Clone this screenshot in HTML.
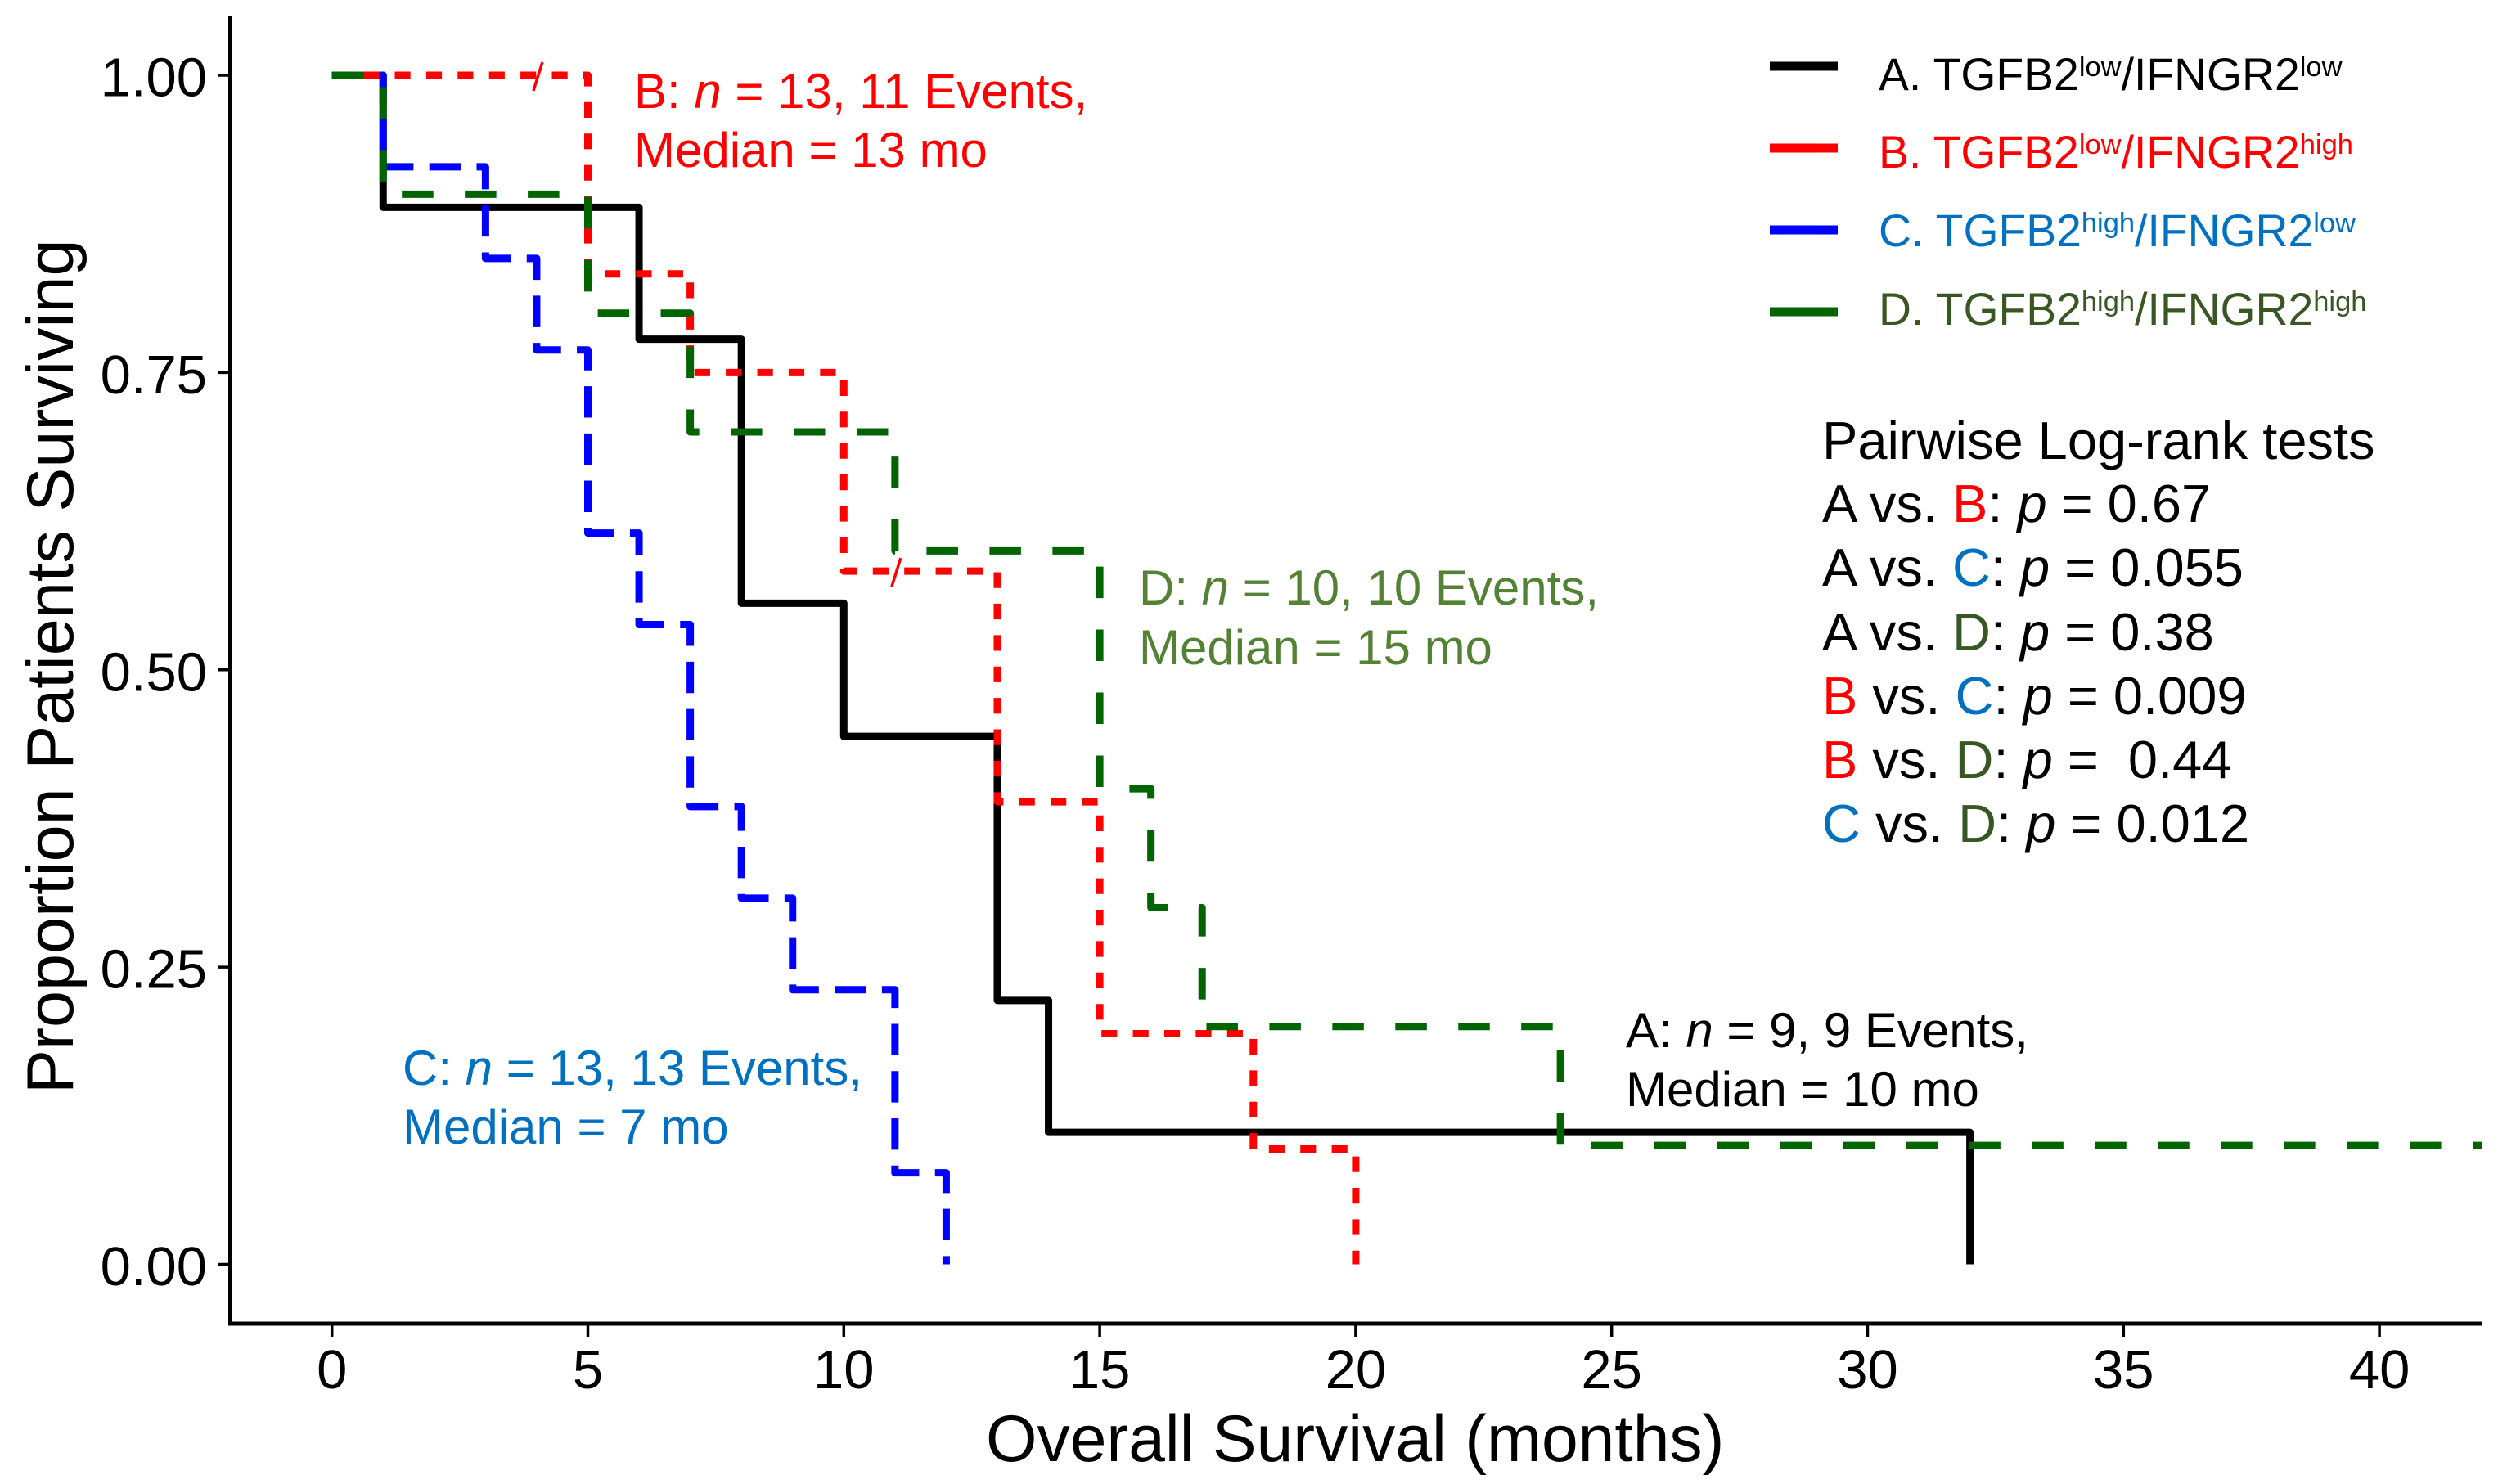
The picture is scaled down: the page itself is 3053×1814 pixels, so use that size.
<!DOCTYPE html>
<html lang="en">
<head>
<meta charset="utf-8">
<title>Overall survival by TGFB2 and IFNGR2 expression</title>
<style>
  html, body { margin: 0; padding: 0; background: #fff; }
  svg { display: block; }
  text { font-family: "Liberation Sans", Arial, sans-serif; white-space: pre; }
  .tick { font-size: 67px; fill: #000; }
  .note { font-size: 60px; }
  .leg { font-size: 55.3px; }
  .pw { font-size: 65px; fill: #000; }
  .i { font-style: italic; }
  .r { fill: #ff0000; } .c { fill: #0070c0; } .d { fill: #385723; }
</style>
</head>
<body>
<svg id="chart" xmlns="http://www.w3.org/2000/svg" width="3053" height="1814" viewBox="0 0 3053 1814">
  <rect x="0" y="0" width="3053" height="1814" fill="#fff"/>

  <g id="axes">
    <line x1="281.5" y1="19" x2="281.5" y2="1620" stroke="#000" stroke-width="5"/>
    <line x1="279" y1="1618" x2="3034" y2="1618" stroke="#000" stroke-width="5"/>
  </g>
  <g id="ticks"></g>
  <g id="series"></g>

  <text x="89" y="1337" transform="rotate(-90 89 1337)" font-size="81" fill="#000">Proportion Patients Surviving</text>
  <text x="1205" y="1786" font-size="80.4" fill="#000">Overall Survival (months)</text>

  <g fill="#ff0000">
    <text class="note" x="775" y="132">B: <tspan class="i">n</tspan> = 13, 11 Events,</text>
    <text class="note" x="775" y="204">Median = 13 mo</text>
  </g>
  <g fill="#548235">
    <text class="note" x="1392" y="739">D: <tspan class="i">n</tspan> = 10, 10 Events,</text>
    <text class="note" x="1392" y="812">Median = 15 mo</text>
  </g>
  <g fill="#0070c0">
    <text class="note" x="492" y="1326">C: <tspan class="i">n</tspan> = 13, 13 Events,</text>
    <text class="note" x="492" y="1398">Median = 7 mo</text>
  </g>
  <g fill="#000">
    <text class="note" x="1987" y="1280">A: <tspan class="i">n</tspan> = 9, 9 Events,</text>
    <text class="note" x="1987" y="1352">Median = 10 mo</text>
  </g>

  <g>
    <g>
      <line x1="2163" y1="81" x2="2246" y2="81" stroke="#000" stroke-width="11"/>
      <text class="leg" x="2296" y="110" fill="#000">A. TGFB2<tspan dy="-17" font-size="34.5">low</tspan><tspan dy="17">/IFNGR2</tspan><tspan dy="-17" font-size="34.5">low</tspan></text>
    </g>
    <g>
      <line x1="2163" y1="181" x2="2246" y2="181" stroke="#ff0000" stroke-width="11"/>
      <text class="leg" x="2296" y="205" fill="#ff0000">B. TGFB2<tspan dy="-17" font-size="34.5">low</tspan><tspan dy="17">/IFNGR2</tspan><tspan dy="-17" font-size="34.5">high</tspan></text>
    </g>
    <g>
      <line x1="2163" y1="281" x2="2246" y2="281" stroke="#0000ff" stroke-width="11"/>
      <text class="leg" x="2296" y="301" fill="#0070c0">C. TGFB2<tspan dy="-17" font-size="34.5">high</tspan><tspan dy="17">/IFNGR2</tspan><tspan dy="-17" font-size="34.5">low</tspan></text>
    </g>
    <g>
      <line x1="2163" y1="381" x2="2246" y2="381" stroke="#006400" stroke-width="11"/>
      <text class="leg" x="2296" y="397" fill="#385723">D. TGFB2<tspan dy="-17" font-size="34.5">high</tspan><tspan dy="17">/IFNGR2</tspan><tspan dy="-17" font-size="34.5">high</tspan></text>
    </g>
  </g>

  <g>
    <text class="pw" x="2227" y="561">Pairwise Log-rank tests</text>
    <text class="pw" x="2227" y="638">A vs. <tspan class="r">B</tspan>: <tspan class="i">p</tspan> = 0.67</text>
    <text class="pw" x="2227" y="716">A vs. <tspan class="c">C</tspan>: <tspan class="i">p</tspan> = 0.055</text>
    <text class="pw" x="2227" y="795">A vs. <tspan class="d">D</tspan>: <tspan class="i">p</tspan> = 0.38</text>
    <text class="pw" x="2227" y="873"><tspan class="r">B</tspan> vs. <tspan class="c">C</tspan>: <tspan class="i">p</tspan> = 0.009</text>
    <text class="pw" x="2227" y="951"><tspan class="r">B</tspan> vs. <tspan class="d">D</tspan>: <tspan class="i">p</tspan> =  0.44</text>
    <text class="pw" x="2227" y="1029"><tspan class="c">C</tspan> vs. <tspan class="d">D</tspan>: <tspan class="i">p</tspan> = 0.012</text>
  </g>
</svg>

<script>
const xTickValues = [0, 5, 10, 15, 20, 25, 30, 35, 40];
const yTickValues = [0, 0.25, 0.5, 0.75, 1];
const yTickLabels = ["0.00", "0.25", "0.50", "0.75", "1.00"];

const timesA = [0, 1, 6, 8, 10, 13, 14, 32];
const survA = [1, 0.889, 0.778, 0.556, 0.444, 0.222, 0.111, 0];

const timesB = [0, 5, 7, 10, 13, 15, 18, 20];
const survB = [1, 0.833, 0.75, 0.583, 0.389, 0.194, 0.097, 0];
const censorTimesB = [4, 11];
const censorSurvB = [1, 0.583];

const timesC = [0, 1, 3, 4, 5, 6, 7, 8, 9, 11, 12];
const survC = [1, 0.923, 0.846, 0.769, 0.615, 0.538, 0.385, 0.308, 0.231, 0.077, 0];

const timesD = [0, 1, 5, 7, 11, 15, 16, 17, 24, 42];
const survD = [1, 0.9, 0.8, 0.7, 0.6, 0.4, 0.3, 0.2, 0.1, 0.1];

const NS = "http://www.w3.org/2000/svg";
function xScale(t) { return 405.7 + t * 62.56; }
function yScale(s) { return 1545.5 - s * 1453.5; }

function stepPath(times, surv) {
  let d = "M" + xScale(times[0]) + " " + yScale(surv[0]);
  for (let i = 1; i < times.length; i++) {
    d += "H" + xScale(times[i]) + "V" + yScale(surv[i]);
  }
  return d;
}

const ticks = document.getElementById("ticks");
xTickValues.forEach(function (v) {
  const line = document.createElementNS(NS, "line");
  
  
  line.setAttribute("x1", xScale(v));
  line.setAttribute("x2", xScale(v));
  line.setAttribute("y1", 1618);
  line.setAttribute("y2", 1634);
  line.setAttribute("stroke", "#000");
  line.setAttribute("stroke-width", 3.5);
  ticks.appendChild(line);
  const label = document.createElementNS(NS, "text");
  
  
  label.setAttribute("class", "tick");
  label.setAttribute("x", xScale(v));
  label.setAttribute("y", 1697);
  label.setAttribute("text-anchor", "middle");
  label.textContent = String(v);
  ticks.appendChild(label);
});
yTickValues.forEach(function (v, i) {
  const line = document.createElementNS(NS, "line");
  
  
  line.setAttribute("x1", 266);
  line.setAttribute("x2", 282);
  line.setAttribute("y1", yScale(v));
  line.setAttribute("y2", yScale(v));
  line.setAttribute("stroke", "#000");
  line.setAttribute("stroke-width", 3.5);
  ticks.appendChild(line);
  const label = document.createElementNS(NS, "text");
  
  
  label.setAttribute("class", "tick");
  label.setAttribute("x", 253);
  label.setAttribute("y", yScale(v) + 25.5);
  label.setAttribute("text-anchor", "end");
  label.textContent = yTickLabels[i];
  ticks.appendChild(label);
});

const seriesGroup = document.getElementById("series");
function drawCurve(name, times, surv, color, dash) {
  const path = document.createElementNS(NS, "path");
  
  
  path.setAttribute("d", stepPath(times, surv));
  path.setAttribute("fill", "none");
  path.setAttribute("stroke", color);
  path.setAttribute("stroke-width", 9);
  path.setAttribute("stroke-linejoin", "round");
  path.setAttribute("stroke-linecap", "butt");
  if (dash) path.setAttribute("stroke-dasharray", dash);
  seriesGroup.appendChild(path);
}
drawCurve("curve-a", timesA, survA, "#000000", "");
drawCurve("curve-b", timesB, survB, "#ff0000", "19.2 19.2");
drawCurve("curve-c", timesC, survC, "#0000ff", "38.4 19.34");
drawCurve("curve-d", timesD, survD, "#006400", "38.5 38.45");

censorTimesB.forEach(function (t, i) {
  const mark = document.createElementNS(NS, "line");
  
  
  mark.setAttribute("x1", xScale(t) + 7);
  mark.setAttribute("y1", yScale(censorSurvB[i]) - 16);
  mark.setAttribute("x2", xScale(t) - 4);
  mark.setAttribute("y2", yScale(censorSurvB[i]) + 19);
  mark.setAttribute("stroke", "#ff0000");
  mark.setAttribute("stroke-width", 3.5);
  seriesGroup.appendChild(mark);
});
</script>
</body>
</html>
